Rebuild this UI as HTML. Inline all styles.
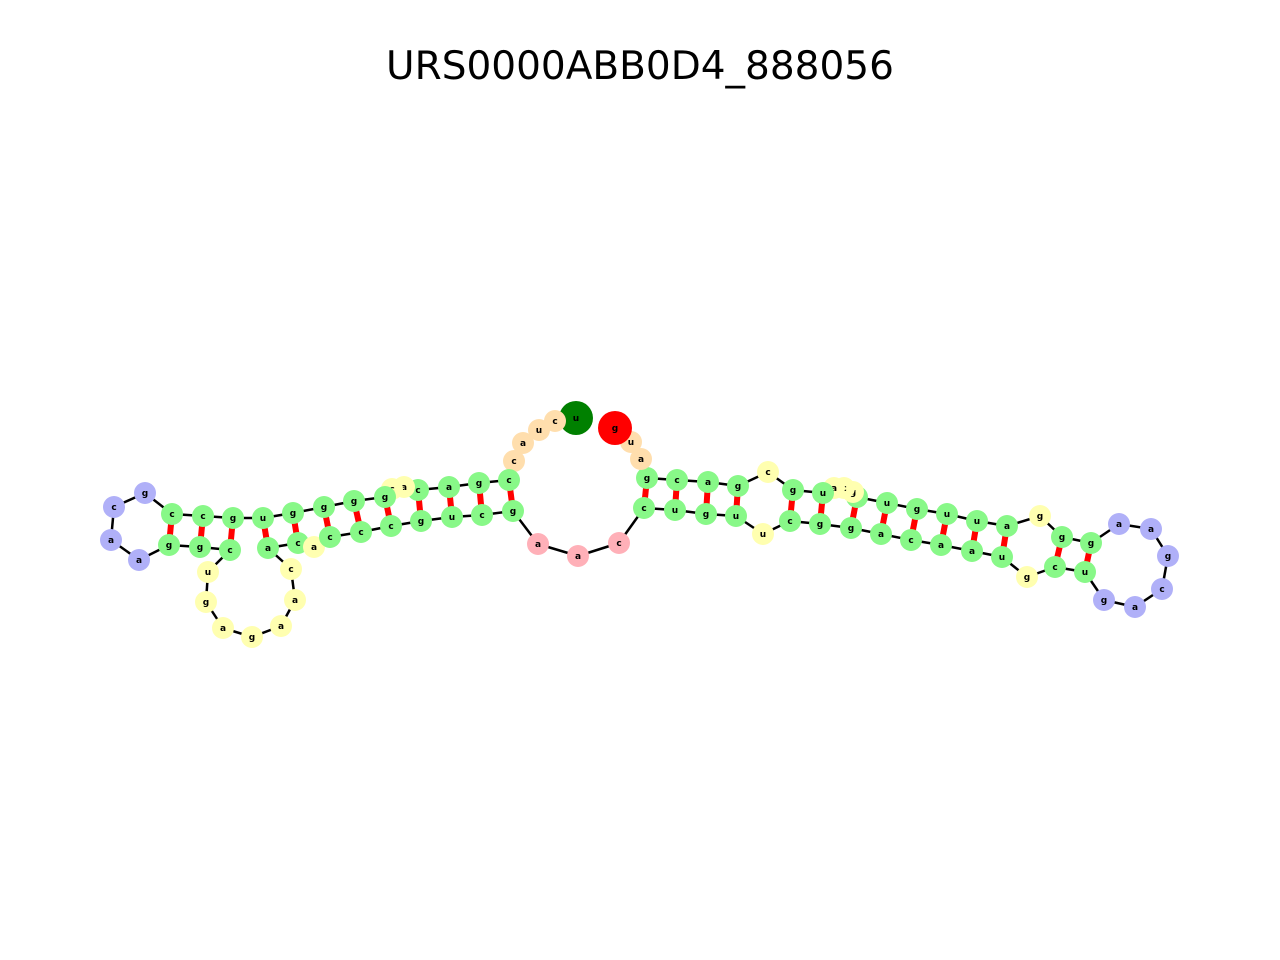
<!DOCTYPE html>
<html><head><meta charset="utf-8"><style>
body{margin:0;background:#fff}
svg{display:block}
</style></head><body>
<svg id="chart" width="1280" height="960" viewBox="0 0 1280 960" xmlns="http://www.w3.org/2000/svg">
<rect width="1280" height="960" fill="#fff"/>
<text x="640" y="79" text-anchor="middle" font-family="DejaVu Sans, Liberation Sans, sans-serif" font-size="39" fill="#000">URS0000ABB0D4_888056</text>
<g id="backbone"></g>
<g id="pairs"></g>
<g id="nodes"></g>
</svg>
<script>
const bases = ["u","c","u","a","c","c","g","a","c","a","c","g","g","g","g","u","g","c","c","g","c","a","a","g","g","c","u","g","a","g","a","a","c","a","c","a","c","c","c","g","u","c","g","a","a","c","c","u","g","u","u","c","g","g","a","c","a","a","u","g","c","u","g","a","c","g","a","a","g","g","g","a","u","u","g","u","c","g","c","a","u","g","c","g","a","c","g","a","u","g"];
const xs = [576,555,539,523,514,509,479,449,418,404,392,385,354,324,293,263,233,203,172,145,114,111,139,169,200,230,208,206,223,252,281,295,291,268,298,314,330,361,391,421,452,482,513,538,578,619,644,675,706,736,763,790,820,851,881,911,941,972,1002,1027,1055,1085,1104,1135,1162,1168,1151,1119,1091,1062,1040,1007,977,947,917,887,857,853,844,834,823,793,768,738,708,677,647,641,631,615];
const ys = [418,421,430,443,461,480,483,487,490,487,489,497,501,507,513,518,518,516,514,493,507,540,560,545,547,550,572,602,628,637,626,600,569,548,543,547,537,532,526,521,517,515,511,544,556,543,508,510,514,516,534,521,524,528,534,540,545,551,557,577,567,572,600,607,589,556,529,524,543,537,516,526,521,514,509,503,497,492,488,488,493,490,472,486,482,480,478,459,442,428];
const kinds = ["S","O","O","O","O","G","G","G","G","Y","Y","G","G","G","G","G","G","G","G","B","B","B","B","G","G","G","Y","Y","Y","Y","Y","Y","Y","G","G","Y","G","G","G","G","G","G","G","P","P","P","G","G","G","G","Y","G","G","G","G","G","G","G","G","Y","G","G","B","B","B","B","B","B","G","G","Y","G","G","G","G","G","G","Y","Y","Y","G","G","Y","G","G","G","G","O","O","E"];
const pairI = [5,6,7,8,11,12,13,14,15,16,17,18,46,47,48,49,51,52,53,54,55,56,57,58,60,61];
const pairJ = [42,41,40,39,38,37,36,34,33,25,24,23,86,85,84,83,81,80,76,75,74,73,72,71,69,68];
const colors = {G:"#88f888",Y:"#ffffb0",B:"#b0b0f8",P:"#ffb0b8",O:"#ffdead",S:"#008000",E:"#ff0000"};
const NS="http://www.w3.org/2000/svg";
const bb=document.getElementById('backbone'), pg=document.getElementById('pairs'), ng=document.getElementById('nodes');
for(let i=0;i<xs.length-1;i++){
  const l=document.createElementNS(NS,'line');
  
  
  l.setAttribute('x1',xs[i]);l.setAttribute('y1',ys[i]);l.setAttribute('x2',xs[i+1]);l.setAttribute('y2',ys[i+1]);
  l.setAttribute('stroke','#000');l.setAttribute('stroke-width','2.5');
  bb.appendChild(l);
}
for(let k=0;k<pairI.length;k++){
  const a=pairI[k],b=pairJ[k];
  const l=document.createElementNS(NS,'line');
  
  
  l.setAttribute('x1',xs[a]);l.setAttribute('y1',ys[a]);l.setAttribute('x2',xs[b]);l.setAttribute('y2',ys[b]);
  l.setAttribute('stroke','#ff0000');l.setAttribute('stroke-width','6');
  pg.appendChild(l);
}
for(let i=0;i<xs.length;i++){
  const g=document.createElementNS(NS,'g');
  
  
  const big=(kinds[i]==="S"||kinds[i]==="E");
  const c=document.createElementNS(NS,'circle');
  
  
  c.setAttribute('cx',xs[i]);c.setAttribute('cy',ys[i]);c.setAttribute('r',big?17:11);
  c.setAttribute('fill',colors[kinds[i]]);
  g.appendChild(c);
  const t=document.createElementNS(NS,'text');
  
  
  t.setAttribute('x',xs[i]);t.setAttribute('y',ys[i]+3);
  t.setAttribute('text-anchor','middle');
  t.setAttribute('font-family','DejaVu Sans, Liberation Sans, sans-serif');
  t.setAttribute('font-size','9');t.setAttribute('font-weight','bold');
  t.textContent=bases[i];
  g.appendChild(t);
  ng.appendChild(g);
}
</script>
</body></html>
